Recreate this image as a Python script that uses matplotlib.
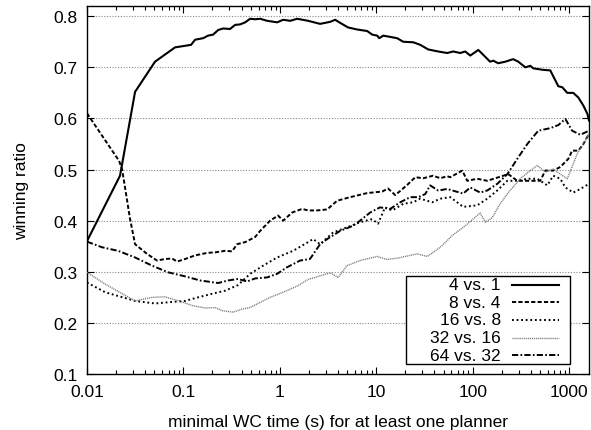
import matplotlib
matplotlib.use("Agg")
import matplotlib.pyplot as plt
from matplotlib.patches import Rectangle
from matplotlib.ticker import FixedLocator, FixedFormatter, LogLocator, NullFormatter

plt.rcParams["font.family"] = ["Liberation Sans", "DejaVu Sans"]
plt.rcParams["lines.scale_dashes"] = False

# data (x: minimal WC time in s, y: winning ratio)
x_4v1 = [0.01, 0.022, 0.0315, 0.0507, 0.0818, 0.12, 0.132, 0.16, 0.18, 0.203, 0.229,
         0.258, 0.304, 0.343, 0.387, 0.436, 0.491, 0.553, 0.624, 0.737, 0.935, 1.08,
         1.28, 1.51, 1.96, 2.61, 3.32, 3.74, 4.21, 5.09, 6.32, 8.03, 9.04, 10.2, 10.7,
         11.8, 16.4, 19.0, 24.1, 28.5, 34.4, 43.7, 54.2, 62.6, 74.0, 83.4, 94.0, 114,
         151, 163, 183, 217, 262, 296, 350, 394, 423, 537, 635, 769, 846, 953, 1100,
         1240, 1400, 1540, 1600]
y_4v1 = [0.360, 0.488, 0.652, 0.711, 0.739, 0.744, 0.754, 0.757, 0.762, 0.764, 0.773,
         0.776, 0.775, 0.783, 0.784, 0.788, 0.795, 0.794, 0.795, 0.791, 0.788, 0.793,
         0.791, 0.795, 0.791, 0.785, 0.789, 0.793, 0.787, 0.778, 0.774, 0.771, 0.764, 0.762, 0.757,
         0.762, 0.757, 0.750, 0.749, 0.744, 0.735, 0.731, 0.728, 0.731, 0.728, 0.731, 0.723, 0.734,
         0.711, 0.713, 0.708, 0.711, 0.716, 0.711, 0.700, 0.703, 0.698, 0.695, 0.694, 0.663, 0.661, 0.650, 0.650,
         0.641, 0.625, 0.609, 0.596]

x_8v4 = [0.01, 0.0215, 0.0231, 0.0279, 0.0315, 0.0419, 0.0532, 0.0644, 0.0762, 0.0859,
         0.104, 0.132, 0.176, 0.213, 0.270, 0.319, 0.360, 0.436, 0.553, 0.624, 0.791,
         0.957, 1.08, 1.34, 1.70, 1.96, 2.43, 3.09, 3.92, 5.35, 8.03, 11.5, 13.2, 15.7,
         20.9, 25.3, 30.6, 38.8, 45.9, 54.2, 58.3, 77.7, 87.5, 111, 141, 233, 289, 394,
         500, 564, 682, 807, 977, 1070, 1240, 1400, 1600]
y_8v4 = [0.610, 0.517, 0.501, 0.404, 0.354, 0.335, 0.322, 0.325, 0.326, 0.320,
         0.325, 0.332, 0.337, 0.338, 0.341, 0.340, 0.354, 0.358, 0.368, 0.380, 0.400,
         0.410, 0.400, 0.416, 0.423, 0.420, 0.420, 0.422, 0.439, 0.446, 0.454, 0.457, 0.463, 0.450,
         0.470, 0.485, 0.483, 0.488, 0.483, 0.487, 0.485, 0.498, 0.478, 0.482, 0.478, 0.491, 0.478, 0.478,
         0.478, 0.498, 0.498, 0.505, 0.521, 0.537, 0.537, 0.550, 0.570]

x_16v8 = [0.01, 0.0154, 0.0315, 0.0507, 0.0762, 0.104, 0.142, 0.198, 0.270, 0.368,
          0.491, 0.670, 0.935, 1.37, 1.96, 2.21, 2.61, 3.56, 4.97, 6.79, 9.04, 10.4,
          12.3, 14.6, 19.0, 24.1, 28.5, 37.9, 45.9, 58.3, 79.5, 111, 141, 179, 228, 289,
          367, 466, 591, 682, 807, 910, 1100, 1300, 1600]
y_16v8 = [0.279, 0.260, 0.243, 0.238, 0.241, 0.243, 0.250, 0.257, 0.263, 0.274,
          0.296, 0.312, 0.328, 0.341, 0.358, 0.364, 0.354, 0.377, 0.387, 0.397, 0.403, 0.394,
          0.426, 0.420, 0.433, 0.436, 0.443, 0.436, 0.443, 0.446, 0.427, 0.430, 0.443, 0.459, 0.478, 0.478,
          0.482, 0.482, 0.469, 0.488, 0.482, 0.465, 0.455, 0.462, 0.472]

x_32v16 = [0.01, 0.0154, 0.0315, 0.0472, 0.0644, 0.0966, 0.123, 0.168, 0.213, 0.251,
           0.327, 0.405, 0.491, 0.624, 0.791, 1.08, 1.51, 1.96, 2.61, 3.32, 4.02, 4.97,
           6.79, 10.2, 12.9, 16.8, 26.5, 33.6, 38.8, 45.9, 54.2, 61.1, 83.4, 106, 119,
           135, 159, 192, 233, 310, 394, 466, 564, 682, 807, 953, 1210, 1470, 1600]
y_32v16 = [0.299, 0.276, 0.243, 0.250, 0.251, 0.241, 0.234, 0.229, 0.230, 0.224,
           0.221, 0.227, 0.230, 0.240, 0.250, 0.260, 0.272, 0.285, 0.292, 0.298, 0.289, 0.312,
           0.322, 0.330, 0.324, 0.327, 0.335, 0.330, 0.338, 0.348, 0.361, 0.371, 0.390, 0.407, 0.415,
           0.397, 0.406, 0.433, 0.455, 0.482, 0.498, 0.508, 0.495, 0.501, 0.491, 0.482, 0.531, 0.557, 0.570]

x_64v32 = [0.01, 0.0143, 0.021, 0.0315, 0.0472, 0.0692, 0.104, 0.149, 0.229, 0.290,
           0.368, 0.457, 0.553, 0.737, 0.935, 1.19, 1.62, 2.05, 2.61, 3.09, 4.21, 5.74,
           6.47, 8.63, 10.9, 13.9, 17.7, 22.4, 27.2, 32.1, 36.1, 43.7, 54.2, 79.5, 94.0,
           119, 141, 179, 228, 289, 367, 477, 635, 769, 910, 1070, 1300, 1600]
y_64v32 = [0.359, 0.348, 0.341, 0.328, 0.312, 0.299, 0.291, 0.283, 0.278, 0.283,
           0.286, 0.281, 0.287, 0.289, 0.296, 0.309, 0.322, 0.325, 0.354, 0.364, 0.380, 0.390,
           0.397, 0.416, 0.426, 0.423, 0.436, 0.446, 0.446, 0.452, 0.469, 0.459, 0.462, 0.453, 0.465,
           0.455, 0.459, 0.472, 0.491, 0.521, 0.550, 0.576, 0.581, 0.587, 0.599, 0.576, 0.568, 0.576]

labels = ["4 vs. 1", "8 vs. 4", "16 vs. 8", "32 vs. 16", "64 vs. 32"]
xticks = [0.01, 0.1, 1, 10, 100, 1000]
xtick_labels = ["0.01", "0.1", "1", "10", "100", "1000"]
yticks = [0.1, 0.2, 0.3, 0.4, 0.5, 0.6, 0.7, 0.8]
ytick_labels = ["0.1", "0.2", "0.3", "0.4", "0.5", "0.6", "0.7", "0.8"]

series = [(x_4v1, y_4v1), (x_8v4, y_8v4), (x_16v8, y_16v8), (x_32v16, y_32v16), (x_64v32, y_64v32)]
styles = [
    dict(color="black", lw=1.5, linestyle="-"),
    dict(color="black", lw=1.4, linestyle=(0, (3.0, 1.6))),
    dict(color="black", lw=1.4, linestyle=(0, (1.3, 2.0))),
    dict(color="#7a7a7a", lw=1.0, linestyle=(0, (0.8, 0.6))),
    dict(color="black", lw=1.4, linestyle=(0, (4.5, 1.6, 1.2, 1.6))),
]
FS = 12.5

fig = plt.figure(figsize=(5.91, 4.31), dpi=100)
ax = fig.add_axes([0.1472, 0.1299, 0.8494, 0.8539])

for y in yticks[1:]:
    ax.axhline(y, color="#888888", lw=0.8, linestyle=(0, (0.8, 1.2)), zorder=1)

for (xs, ys), lab, st in zip(series, labels, styles):
    ax.plot(xs, ys, label=lab, zorder=3, **st)

ax.set_xscale("log")
ax.set_xlim(0.01, 1600)
ax.set_ylim(0.1, 0.82)

ax.xaxis.set_major_locator(FixedLocator(xticks))
ax.xaxis.set_major_formatter(FixedFormatter(xtick_labels))
ax.xaxis.set_minor_locator(LogLocator(base=10, subs=range(2, 10)))
ax.xaxis.set_minor_formatter(NullFormatter())
ax.yaxis.set_major_locator(FixedLocator(yticks))
ax.yaxis.set_major_formatter(FixedFormatter(ytick_labels))

ax.tick_params(which="both", direction="in", top=True, right=True, labelsize=FS, width=0.8)
ax.tick_params(which="major", length=5, pad=7)
ax.tick_params(which="minor", length=3)
for sp in ax.spines.values():
    sp.set_linewidth(1.0)

ax.set_xlabel("minimal WC time (s) for at least one planner", fontsize=FS, labelpad=11)
ax.set_ylabel("winning ratio", fontsize=FS, labelpad=17)

# gnuplot-style key: opaque box, labels right-aligned left of the line samples
box = Rectangle((0.635, 0.0272), 0.962 - 0.635, 0.267 - 0.0272, transform=ax.transAxes,
                facecolor="white", edgecolor="black", lw=1.0, zorder=4)
ax.add_patch(box)
key_top, key_step = 0.242, 0.0476
for i, (lab, st) in enumerate(zip(labels, styles)):
    ky = key_top - i * key_step
    ax.plot([0.8462, 0.9410], [ky, ky], transform=ax.transAxes, zorder=5, **st)
    ax.text(0.8241, ky, lab, transform=ax.transAxes, ha="right", va="center",
            fontsize=FS, zorder=5)

fig.savefig("out.png", dpi=100)
